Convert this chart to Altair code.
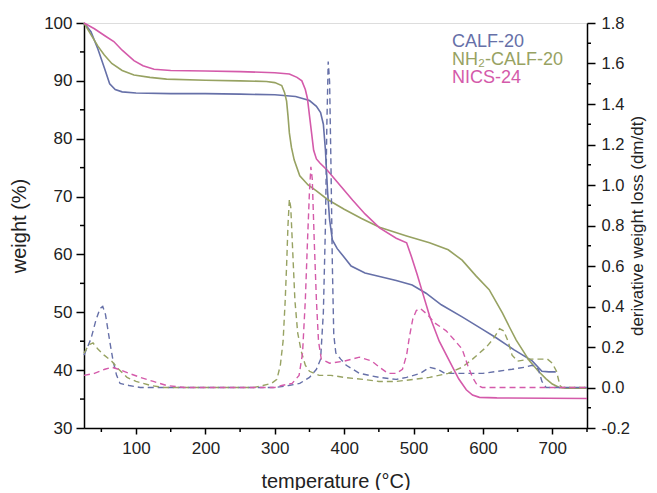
import altair as alt
import pandas as pd

series = ["CALF-20", "NH₂-CALF-20", "NICS-24"]
colors = ["#6670A8", "#97A262", "#D45AAA"]

# ---- TGA weight curves (weight %, left axis) ----
calf_t = [25, 35, 45, 55, 62, 70, 80, 100, 150, 200, 250, 300, 330, 350, 360, 366, 370, 373, 376, 379,
          383, 390, 398, 410, 430, 451, 475, 498, 518, 540, 570, 600, 619, 645, 671, 685, 695, 705]
calf_w = [100, 98.5, 95.5, 92, 89.5, 88.5, 88.1, 87.9, 87.8, 87.8, 87.7, 87.6, 87.3, 86.6, 85.6, 84.5, 82.5, 78, 71, 66,
          62.5, 61, 59.8, 58, 56.8, 56.2, 55.5, 54.7, 53.3, 51.3, 49.2, 47, 45.6, 43.5, 41.6, 39.8, 39.7, 39.7]

nh2_t = [25, 35, 45, 54, 65, 80, 97, 120, 144, 200, 250, 288, 300, 310, 314, 317, 319, 321, 324, 328,
         336, 348, 360, 376, 400, 425, 451, 490, 523, 550, 570, 590, 609, 619, 628, 638, 648, 667, 680, 691,
         700, 710, 720, 750]
nh2_w = [100, 98, 96, 94.5, 93, 91.8, 91, 90.6, 90.3, 90.1, 90.0, 89.9, 89.7, 89.2, 88, 86.5, 84, 81, 78.5, 76.3,
         73.6, 72, 71, 69.5, 67.8, 66.2, 64.7, 63.2, 62, 60.8, 59, 56.3, 53.9, 51.8, 49.9, 47.5, 45.2, 41.6, 39.8, 38.5,
         37.6, 37.0, 36.9, 36.9]

nics_t = [25, 40, 55, 68, 80, 97, 110, 126, 150, 200, 250, 300, 321, 332, 339, 344, 347, 350, 353, 356,
          360, 365, 376, 390, 412, 430, 451, 475, 490, 497, 505, 513, 523, 537, 552, 565, 576, 585, 595, 620, 750]
nics_w = [100, 99, 97.8, 96.8, 95.3, 93.5, 92.6, 92.0, 91.8, 91.7, 91.6, 91.4, 91.2, 90.6, 90, 88.5, 87, 84, 81, 78,
          76.5, 75.8, 74.5, 72.5, 69.4, 67, 64.6, 62.8, 62, 59.6, 56.6, 53.4, 49.4, 45, 41.5, 38.5, 36.6, 35.7, 35.3, 35.2, 35.1]

# ---- derivative curves (dm/dt, right axis) ----
calf_dt = [25, 35, 42, 48, 52, 56, 62, 67, 72, 77, 90, 106, 200, 300, 320, 336, 350, 360, 366, 370,
           373, 375, 377, 379, 381, 383, 385, 388, 395, 403, 422, 450, 475, 490, 510, 523, 535, 545, 570, 600,
           642, 660, 671, 680, 685, 691, 750]
calf_d = [0.16, 0.24, 0.33, 0.39, 0.40, 0.36, 0.23, 0.13, 0.06, 0.02, 0.01, 0.00, 0.00, 0.00, 0.01, 0.02, 0.05, 0.09, 0.14, 0.37,
          0.80, 1.29, 1.61, 1.51, 1.09, 0.60, 0.26, 0.17, 0.14, 0.11, 0.07, 0.05, 0.04, 0.05, 0.07, 0.10, 0.09, 0.07, 0.07, 0.07,
          0.09, 0.10, 0.11, 0.09, 0.03, 0.00, 0.00]

nh2_dt = [25, 32, 38, 45, 54, 65, 75, 87, 100, 121, 140, 200, 270, 283, 295, 303, 308, 312, 315, 317,
          319, 321, 323, 326, 329, 333, 338, 344, 350, 364, 381, 400, 427, 450, 475, 500, 523, 550, 570, 585,
          595, 605, 615, 624, 630, 636, 642, 650, 667, 693, 700, 706, 711, 714, 750]
nh2_d = [0.17, 0.21, 0.22, 0.19, 0.16, 0.13, 0.09, 0.05, 0.03, 0.01, 0.00, 0.00, 0.00, 0.01, 0.02, 0.04, 0.11, 0.23, 0.43, 0.60,
         0.80, 0.93, 0.89, 0.66, 0.43, 0.27, 0.18, 0.11, 0.08, 0.06, 0.06, 0.05, 0.04, 0.03, 0.03, 0.04, 0.05, 0.07, 0.10, 0.14,
         0.17, 0.20, 0.24, 0.29, 0.28, 0.23, 0.16, 0.13, 0.14, 0.14, 0.12, 0.08, 0.01, 0.00, 0.00]

nics_dt = [25, 40, 55, 65, 75, 90, 106, 125, 144, 170, 300, 310, 325, 335, 340, 344, 347, 350, 352, 354,
           357, 360, 363, 367, 379, 400, 422, 440, 451, 463, 475, 484, 490, 494, 499, 504, 510, 520, 530, 547,
           560, 570, 578, 585, 592, 599, 750]
nics_d = [0.06, 0.07, 0.09, 0.10, 0.09, 0.07, 0.05, 0.03, 0.01, 0.00, 0.00, 0.01, 0.02, 0.06, 0.17, 0.43, 0.71, 0.97, 1.09, 1.03,
          0.71, 0.43, 0.23, 0.14, 0.12, 0.13, 0.15, 0.13, 0.10, 0.07, 0.07, 0.09, 0.16, 0.25, 0.34, 0.38, 0.39, 0.36, 0.32, 0.28,
          0.23, 0.19, 0.11, 0.05, 0.01, 0.00, 0.00]

# ---- axis ticks ----
x_major = [100, 200, 300, 400, 500, 600, 700]
x_minor = [50, 150, 250, 350, 450, 550, 650, 750]
left_major = [30, 40, 50, 60, 70, 80, 90, 100]
left_minor = [35, 45, 55, 65, 75, 85, 95]
right_major = [-0.2, 0.0, 0.2, 0.4, 0.6, 0.8, 1.0, 1.2, 1.4, 1.6, 1.8]
right_minor = [-0.1, 0.1, 0.3, 0.5, 0.7, 0.9, 1.1, 1.3, 1.5, 1.7]

W, H = 503, 405

wdf = pd.concat([
    pd.DataFrame({"T": calf_t, "w": calf_w, "series": series[0]}),
    pd.DataFrame({"T": nh2_t, "w": nh2_w, "series": series[1]}),
    pd.DataFrame({"T": nics_t, "w": nics_w, "series": series[2]}),
])
ddf = pd.concat([
    pd.DataFrame({"T": calf_dt, "d": calf_d, "series": series[0]}),
    pd.DataFrame({"T": nh2_dt, "d": nh2_d, "series": series[1]}),
    pd.DataFrame({"T": nics_dt, "d": nics_d, "series": series[2]}),
])

FONT = "Liberation Sans"
common_axis = dict(grid=False, domainColor="black", domainWidth=1.5, tickColor="black", tickWidth=1.5,
                   labelColor="#222", titleColor="#222",
                   labelFont=FONT, titleFont=FONT, titleFontWeight="normal", labelOverlap=False, labelFlush=False)

x_scale = alt.Scale(domain=[25, 750], nice=False, zero=False)
l_scale = alt.Scale(domain=[30, 100], nice=False, zero=False)
r_scale = alt.Scale(domain=[-0.2, 1.8], nice=False, zero=False)

color = alt.Color("series:N", scale=alt.Scale(domain=series, range=colors), legend=None)

x_enc = alt.X("T:Q", scale=x_scale,
              axis=alt.Axis(title="temperature (°C)", values=x_major, tickSize=6, titleFontSize=20,
                            labelFontSize=17, labelPadding=6, titlePadding=15, **common_axis))

weight = alt.Chart(wdf).mark_line(strokeWidth=1.6).encode(
    x=x_enc,
    y=alt.Y("w:Q", scale=l_scale,
            axis=alt.Axis(title="weight (%)", orient="left", values=left_major, tickSize=8, titleFontSize=20,
                          labelFontSize=17, labelPadding=4, titlePadding=14, **common_axis)),
    color=color,
)

deriv = alt.Chart(ddf).mark_line(strokeWidth=1.4, strokeDash=[6, 4]).encode(
    x=x_enc,
    y=alt.Y("d:Q", scale=r_scale,
            axis=alt.Axis(title="derivative weight loss (dm/dt)", orient="right", values=right_major,
                          format=".1f", tickSize=8, titleFontSize=17, labelFontSize=16.5,
                          labelExpr="replace(datum.label, '\u2212', '-')",
                          titleAngle=270, titleBaseline="top", labelPadding=6, titlePadding=0, **common_axis)),
    color=color,
)

# minor ticks drawn through the same scales
xminor = alt.Chart(pd.DataFrame({"T": x_minor})).mark_rule(color="black", strokeWidth=1.5).encode(
    x=alt.X("T:Q", scale=x_scale), y=alt.value(H), y2=alt.value(H + 4))
lminor = alt.Chart(pd.DataFrame({"v": left_minor})).mark_rule(color="black", strokeWidth=1.5).encode(
    y=alt.Y("v:Q", scale=l_scale, axis=None), x=alt.value(-4), x2=alt.value(0))
rminor = alt.Chart(pd.DataFrame({"v": right_minor})).mark_rule(color="black", strokeWidth=1.5).encode(
    y=alt.Y("v:Q", scale=r_scale, axis=None), x=alt.value(W), x2=alt.value(W + 4))

legend_layers = []
for i, (name, col) in enumerate(zip(series, colors)):
    legend_layers.append(
        alt.Chart(pd.DataFrame({"label": [name]})).mark_text(
            align="left", baseline="alphabetic", fontSize=18, font=FONT, color=col
        ).encode(x=alt.value(368), y=alt.value(24 + 18 * i), text="label:N")
    )

chart = alt.layer(weight, deriv, xminor, lminor, rminor, *legend_layers).resolve_scale(y="independent").properties(
    width=W, height=H,
    padding={"left": 76, "top": 15, "right": 62, "bottom": 62},
    autosize=alt.AutoSizeParams(type="none"),
).configure_view(stroke="black", strokeWidth=1.5).configure(background="white")

chart.save("out.html", embed_options={"renderer": "svg", "actions": False})
